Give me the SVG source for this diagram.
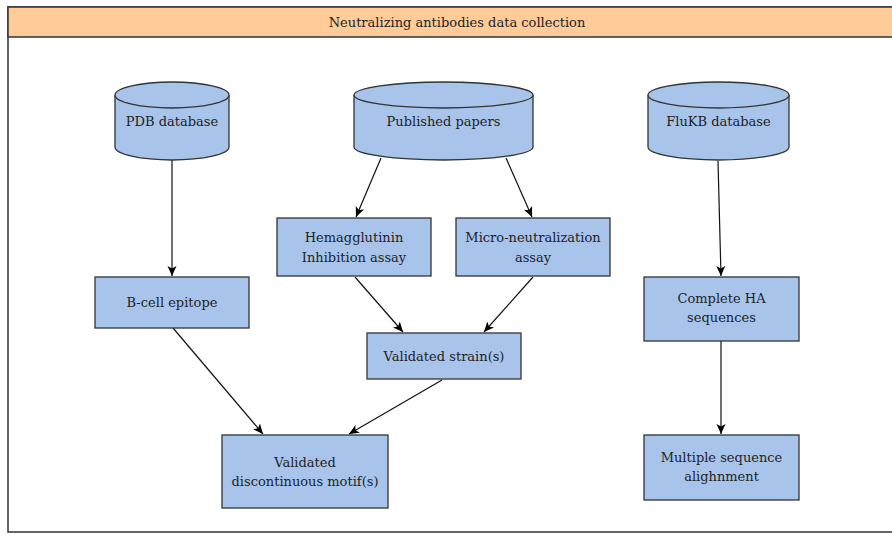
<svg xmlns="http://www.w3.org/2000/svg" width="892" height="535" viewBox="0 0 892 535">
<defs>
<style>
.n{fill:#A9C4EB;stroke:#333;stroke-width:1.3}
.t{font-family:"DejaVu Serif",serif;font-size:13px;fill:#222;text-anchor:middle;dominant-baseline:central}
.c{stroke:#111;stroke-width:1.2;fill:none;marker-end:url(#ah)}
</style>
<marker id="ah" markerWidth="12" markerHeight="12" refX="10" refY="6" orient="auto" markerUnits="userSpaceOnUse">
<path d="M0,1.5 L10,6 L0,10.5 L2.5,6 Z" fill="#000"/>
</marker>
</defs>
<rect width="892" height="535" fill="#fff"/>
<g id="frame">
<rect x="8" y="7" width="900" height="525" fill="#fff" stroke="#333" stroke-width="1.5"/>
<rect x="8" y="7" width="900" height="30" fill="#FFCC99" stroke="#333" stroke-width="1.5"/>
<text class="t" x="457" y="22">Neutralizing antibodies data collection</text>
</g>
<g id="connectors">
<line class="c" x1="172" y1="160" x2="172" y2="276"/>
<line class="c" x1="381" y1="158" x2="356" y2="217"/>
<line class="c" x1="506" y1="158" x2="532" y2="217"/>
<line class="c" x1="355" y1="277" x2="403" y2="332"/>
<line class="c" x1="533" y1="277" x2="484" y2="332"/>
<line class="c" x1="173" y1="328" x2="263" y2="434"/>
<line class="c" x1="442" y1="380" x2="349" y2="434"/>
<line class="c" x1="718" y1="161" x2="721" y2="276"/>
<line class="c" x1="721" y1="341" x2="721" y2="434"/>
</g>
<g id="pdb">
<path class="n" d="M115,95 L115,147 A57,13 0 0 0 229,147 L229,95"/>
<ellipse class="n" cx="172" cy="95" rx="57" ry="13"/>
<text class="t" x="172" y="121">PDB database</text>
</g>
<g id="papers">
<path class="n" d="M354,95 L354,147 A89.5,13 0 0 0 533,147 L533,95"/>
<ellipse class="n" cx="443.5" cy="95" rx="89.5" ry="13"/>
<text class="t" x="443.5" y="121">Published papers</text>
</g>
<g id="flukb">
<path class="n" d="M648,95 L648,147 A70.5,13 0 0 0 789,147 L789,95"/>
<ellipse class="n" cx="718.5" cy="95" rx="70.5" ry="13"/>
<text class="t" x="718.5" y="121">FluKB database</text>
</g>
<g id="hai">
<rect class="n" x="277" y="218" width="154" height="58"/>
<text class="t" x="354" y="237">Hemagglutinin</text>
<text class="t" x="354" y="257">Inhibition assay</text>
</g>
<g id="micro">
<rect class="n" x="456" y="218" width="154" height="58"/>
<text class="t" x="533" y="237">Micro-neutralization</text>
<text class="t" x="533" y="257">assay</text>
</g>
<g id="bcell">
<rect class="n" x="95" y="277" width="154" height="51"/>
<text class="t" x="172" y="302.5">B-cell epitope</text>
</g>
<g id="strain">
<rect class="n" x="367" y="333" width="154" height="46"/>
<text class="t" x="444" y="356">Validated strain(s)</text>
</g>
<g id="motif">
<rect class="n" x="222" y="435" width="166" height="73"/>
<text class="t" x="305" y="462">Validated</text>
<text class="t" x="305" y="481">discontinuous motif(s)</text>
</g>
<g id="ha">
<rect class="n" x="644" y="277" width="155" height="64"/>
<text class="t" x="721.5" y="298">Complete HA</text>
<text class="t" x="721.5" y="317">sequences</text>
</g>
<g id="msa">
<rect class="n" x="644" y="435" width="155" height="65"/>
<text class="t" x="721.5" y="457">Multiple sequence</text>
<text class="t" x="721.5" y="476">alighnment</text>
</g>
</svg>
